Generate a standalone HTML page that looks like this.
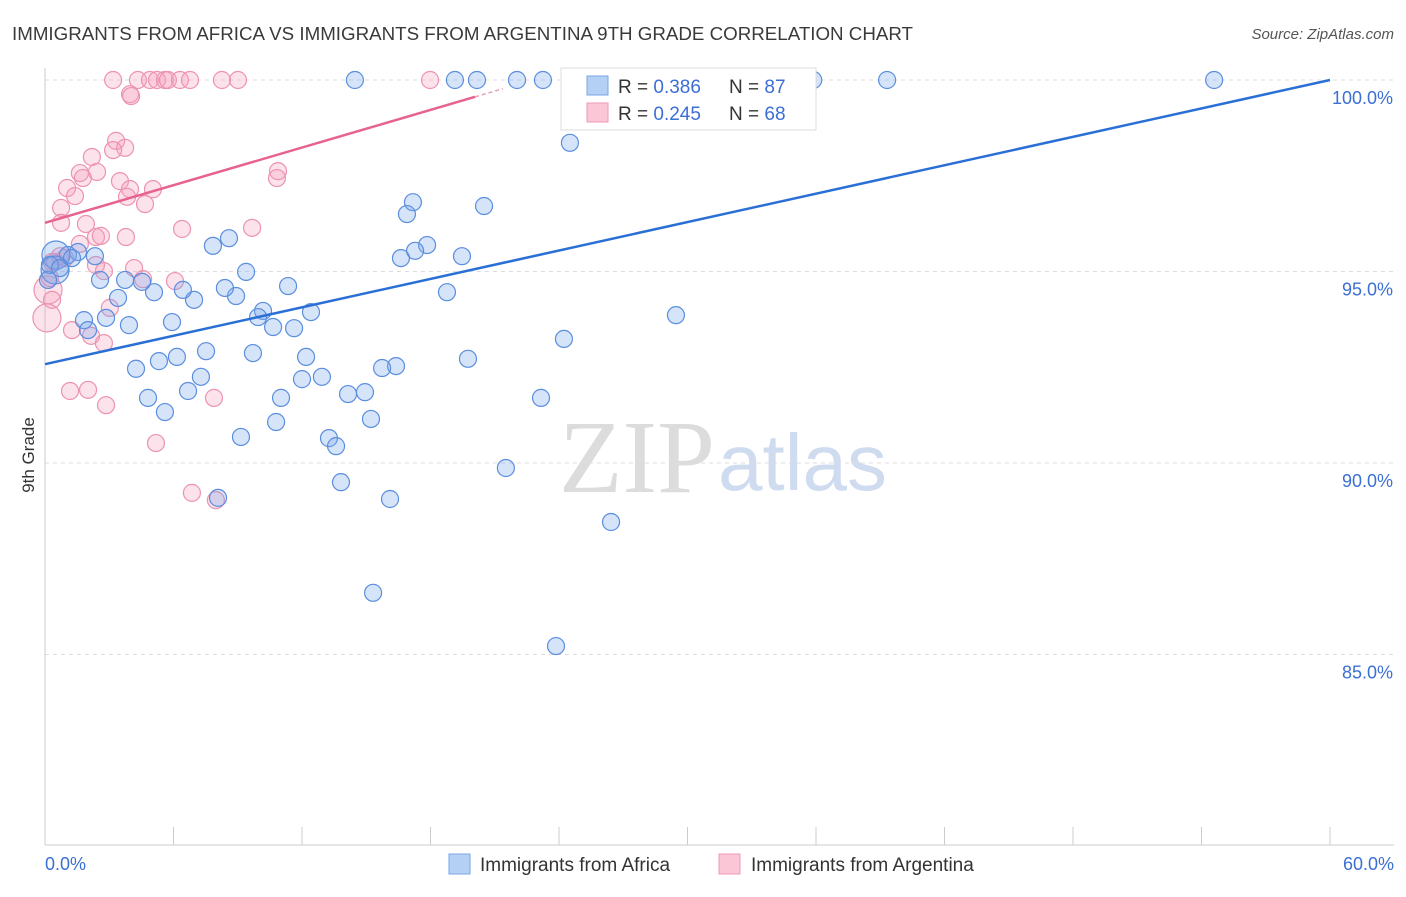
<!DOCTYPE html>
<html><head><meta charset="utf-8"><style>
body{margin:0;background:#fff;font-family:"Liberation Sans",sans-serif;}
svg text{font-family:"Liberation Sans",sans-serif;}
</style></head><body>
<svg id="chart" width="1406" height="892">
<text x="12" y="40" font-size="18" fill="#3a3a3a" textLength="901" lengthAdjust="spacingAndGlyphs">IMMIGRANTS FROM AFRICA VS IMMIGRANTS FROM ARGENTINA 9TH GRADE CORRELATION CHART</text>
<text x="1394" y="39" font-size="15" fill="#555" font-style="italic" text-anchor="end">Source: ZipAtlas.com</text>
<text x="715" y="492" font-size="104" fill="#dcdcdc" style="font-family:'Liberation Serif',serif" text-anchor="end">ZIP</text>
<text x="718" y="490" font-size="80" fill="#cfdcf0">atlas</text>
<text x="34" y="455" font-size="17" fill="#333" transform="rotate(-90 34 455)" text-anchor="middle">9th Grade</text>
<g id="grid"></g><g id="ticks"></g><g id="pts"></g><g id="lines"></g>
<g>
<rect x="561" y="68" width="255" height="62" fill="#fff" stroke="#ddd"/>
<rect x="587" y="76" width="21" height="19" fill="#b5d0f5" stroke="#7aa6e6"/>
<rect x="587" y="103" width="21" height="19" fill="#fbc7d6" stroke="#ee9ab4"/>
<text x="618" y="93" font-size="19" fill="#333">R = <tspan fill="#3b6fd4">0.386</tspan></text>
<text x="729" y="93" font-size="19" fill="#333">N = <tspan fill="#3b6fd4">87</tspan></text>
<text x="618" y="120" font-size="19" fill="#333">R = <tspan fill="#3b6fd4">0.245</tspan></text>
<text x="729" y="120" font-size="19" fill="#333">N = <tspan fill="#3b6fd4">68</tspan></text>
</g>
<g>
<rect x="449" y="854" width="21" height="20" fill="#b5d0f5" stroke="#7aa6e6"/>
<text x="480" y="871" font-size="19" fill="#333">Immigrants from Africa</text>
<rect x="719" y="854" width="21" height="20" fill="#fbc7d6" stroke="#ee9ab4"/>
<text x="751" y="871" font-size="19" fill="#333">Immigrants from Argentina</text>
</g>
</svg>
<script>
const yTicks=[100,95,90,85];
const yTickLabels=["100.0%","95.0%","90.0%","85.0%"];
const xTicks=[0,6,12,18,24,30,36,42,48,54,60];
const xEndLabels=["0.0%","60.0%"];
const blueX=[14.47,19.14,20.17,22.04,23.25,24.84,30.58,32.92,33.39,35.87,39.32,54.59,24.51,17.18,16.90,20.50,17.84,17.28,16.62,19.47,18.77,29.46,24.23,19.75,16.39,15.74,14.94,14.15,12.93,12.00,12.19,11.63,12.42,11.35,10.65,10.18,9.95,9.71,9.39,8.92,8.40,8.59,7.84,6.96,6.44,5.09,4.53,3.74,3.41,2.85,2.57,2.33,1.54,1.07,0.51,0.47,1.82,2.01,3.92,5.93,6.16,5.32,4.25,4.81,5.60,6.68,7.28,7.52,9.15,10.79,11.02,13.26,13.59,13.82,15.22,16.11,15.32,21.52,23.16,26.43,23.86,8.08,0.14,0.23,0.70,1.26];
const blueY=[100,100,100,100,100,100,100,100,100,100,100,100,98.36,96.81,96.50,96.71,95.69,95.54,95.35,95.40,94.46,93.86,93.24,92.72,92.53,92.48,91.85,91.80,92.25,92.19,92.77,93.52,93.94,94.62,93.55,93.97,93.81,92.87,94.99,94.36,94.57,95.87,95.67,94.26,94.52,94.46,94.73,94.78,94.31,93.79,94.78,95.40,95.51,95.43,95.43,95.04,93.73,93.47,93.60,93.68,92.77,92.66,92.46,91.70,91.33,91.88,92.25,92.92,90.68,91.07,91.70,90.65,90.44,89.50,91.15,89.06,86.61,89.87,91.70,88.46,85.22,89.09,94.78,95.17,95.09,95.35];
const pinkX=[3.18,4.34,4.90,5.23,5.60,5.74,6.30,6.77,8.26,9.01,17.98,3.97,4.02,3.32,3.74,3.18,2.19,1.63,2.43,1.77,3.50,1.03,3.97,5.04,1.40,3.83,0.75,4.67,0.75,1.91,10.88,10.83,9.67,6.40,3.78,2.38,2.61,1.63,0.70,0.33,2.38,2.75,4.16,4.58,6.07,0.14,0.33,0.09,1.26,2.15,2.75,3.03,1.17,2.01,2.85,7.89,5.18,6.86,7.98,0.47,0.93,0.23];
const pinkY=[100,100,100,100,100,100,100,100,100,100,100,99.63,99.58,98.41,98.23,98.17,97.99,97.57,97.60,97.44,97.36,97.18,97.15,97.15,96.97,96.95,96.66,96.76,96.27,96.24,97.62,97.44,96.14,96.11,95.90,95.90,95.93,95.72,95.40,95.25,95.17,95.01,95.09,94.80,94.75,94.52,94.26,93.79,93.47,93.32,93.13,94.05,91.88,91.91,91.51,91.70,90.52,89.22,89.03,95.25,95.35,94.83];
const blueBig=[54,55];
const pinkBig=[45,47];
const blueTrend=[0,92.58,60,100];
const pinkTrend=[0,96.27,20.08,99.56];
const NS='http://www.w3.org/2000/svg';
const X0=45,X1=1330,Y100=80,PXPER=38.3;
const sx=v=>X0+(v/60)*(X1-X0);
const sy=v=>Y100+(100-v)*PXPER;
function mk(tag,attrs,parent){const e=document.createElementNS(NS,tag);for(const k in attrs)e.setAttribute(k,attrs[k]);document.getElementById(parent).appendChild(e);return e;}
yTicks.forEach((t,i)=>{
 const l=mk('line',{x1:X0,x2:1394,y1:sy(t),y2:sy(t),stroke:'#ddd','stroke-dasharray':'4,4'},'grid');
 
 
 const tx=mk('text',{x:1393,y:sy(t)+24,'font-size':18,fill:'#3b6fd4','text-anchor':'end'},'ticks');
 tx.textContent=yTickLabels[i];
 
 
});
const ax=mk('line',{x1:X0,x2:X0,y1:68,y2:845,stroke:'#ccc'},'grid');


const bx=mk('line',{x1:X0,x2:1394,y1:845,y2:845,stroke:'#ccc'},'grid');


xTicks.forEach(t=>{
 const l=mk('line',{x1:sx(t),x2:sx(t),y1:827,y2:845,stroke:'#ccc'},'ticks');
 
 
});
[[0,'start',45],[60,'end',1394]].forEach((d,i)=>{
 const tx=mk('text',{x:d[2],y:870,'font-size':18,fill:'#3b6fd4','text-anchor':d[1]},'ticks');
 tx.textContent=xEndLabels[i];
 
 
});
function drawPts(xs,ys,big,fill,stroke,name){
 xs.forEach((x,i)=>{
  const c=mk('circle',{cx:sx(x),cy:sy(ys[i]),r:big.includes(i)?14:8.5,fill:fill,stroke:stroke,'stroke-width':1.2},'pts');
  
  
 });
}
drawPts(pinkX,pinkY,pinkBig,'rgba(244,160,188,0.3)','#ec93b0','argentina-point');
drawPts(blueX,blueY,blueBig,'rgba(120,165,235,0.3)','#5a8ede','africa-point');
const bl=mk('line',{x1:sx(blueTrend[0]),y1:sy(blueTrend[1]),x2:sx(blueTrend[2]),y2:sy(blueTrend[3]),stroke:'#2a6fd6','stroke-width':2.5},'lines');


const pl=mk('line',{x1:sx(pinkTrend[0]),y1:sy(pinkTrend[1]),x2:sx(pinkTrend[2]),y2:sy(pinkTrend[3]),stroke:'#e8628e','stroke-width':2.5},'lines');


const slope=(pinkTrend[3]-pinkTrend[1])/(pinkTrend[2]-pinkTrend[0]);
const ext=pinkTrend[2]+1.3;
const pd=mk('line',{x1:sx(pinkTrend[2]),y1:sy(pinkTrend[3]),x2:sx(ext),y2:sy(pinkTrend[3]+slope*1.3),stroke:'#e8a0b8','stroke-width':1.5,'stroke-dasharray':'4,3'},'lines');


</script>
</body></html>
